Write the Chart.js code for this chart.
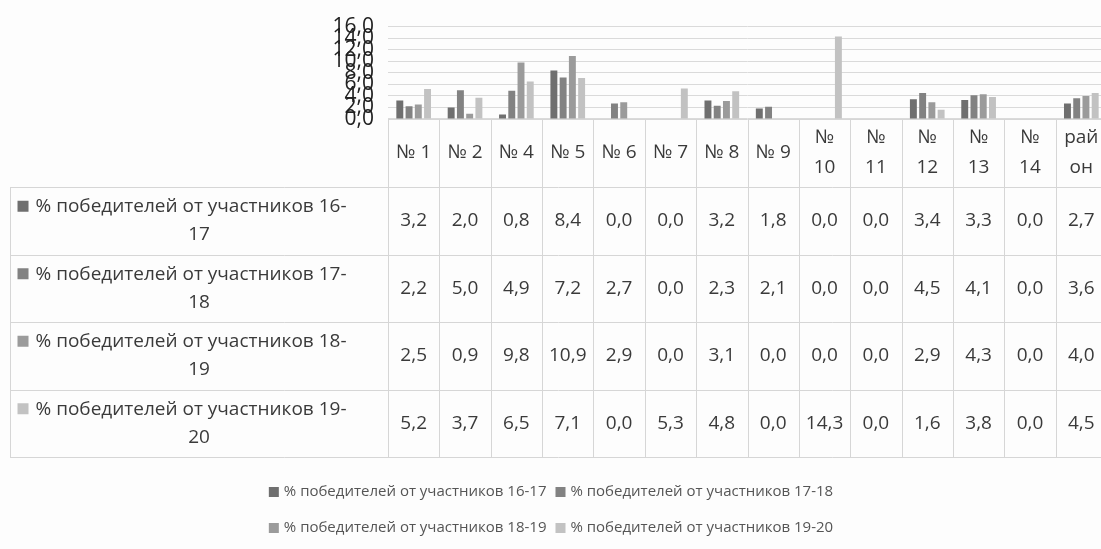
<!DOCTYPE html>
<html><head><meta charset="utf-8">
<script src="https://cdn.jsdelivr.net/npm/chart.js@4/dist/chart.umd.min.js"></script>
<style>
html,body{margin:0;padding:0;background:#fdfdfd;overflow:hidden;}
#wrap{position:relative;width:1107px;height:549px;}
</style>
</head><body><div id="wrap"><canvas id="c"></canvas></div>
<script>
// ---- data ----
const categories = ['№ 1','№ 2','№ 4','№ 5','№ 6','№ 7','№ 8','№ 9','№ 10','№ 11','№ 12','№ 13','№ 14','район'];
const seriesNames = [
  '% победителей от участников 16-17',
  '% победителей от участников 17-18',
  '% победителей от участников 18-19',
  '% победителей от участников 19-20'
];
const s1617 = [3.2, 2.0, 0.8, 8.4, 0.0, 0.0, 3.2, 1.8, 0.0, 0.0, 3.4, 3.3, 0.0, 2.7];
const s1718 = [2.2, 5.0, 4.9, 7.2, 2.7, 0.0, 2.3, 2.1, 0.0, 0.0, 4.5, 4.1, 0.0, 3.6];
const s1819 = [2.5, 0.9, 9.8, 10.9, 2.9, 0.0, 3.1, 0.0, 0.0, 0.0, 2.9, 4.3, 0.0, 4.0];
const s1920 = [5.2, 3.7, 6.5, 7.1, 0.0, 5.3, 4.8, 0.0, 14.3, 0.0, 1.6, 3.8, 0.0, 4.5];
const yMin = 0, yMax = 16, yStep = 2;

// ---- style ----
const FONT = '"Open Sans", "Noto Sans", sans-serif';
const colors = ['#6f6f6f', '#828282', '#9b9b9b', '#c2c2c2'];
const TEXT = '#3a3a3a';
const LINE = '#d6d6d6';
const fmt = v => v.toFixed(1).replace('.', ',');

function wrapText(ctx, text, maxW) {
  const tokens = text.match(/[^\s-]+-?|\s+/g) || [text];
  const lines = [];
  let cur = '';
  for (const t of tokens) {
    const test = cur + t;
    if (ctx.measureText(test.trim()).width <= maxW || cur === '') {
      cur = test;
    } else {
      lines.push(cur.trim());
      cur = t.trim();
    }
  }
  if (cur.trim()) lines.push(cur.trim());
  const out = [];
  for (const l of lines) {
    if (ctx.measureText(l).width <= maxW) { out.push(l); continue; }
    let part = '';
    for (const ch of l) {
      if (ctx.measureText(part + ch).width > maxW && part) { out.push(part); part = ch; }
      else part += ch;
    }
    if (part) out.push(part);
  }
  return out;
}

const tableGeom = { headerBottom: 187, rowH: 67.5, leftX: 10 };

const dataTablePlugin = {
  id: 'dataTable',
  afterDraw(chart) {
    const { ctx, scales: { x } } = chart;
    const ds = chart.data.datasets;
    const n = categories.length;
    const colW = (x.right - x.left) / n;
    const top = chart.chartArea.bottom;
    const hb = tableGeom.headerBottom;
    const rh = tableGeom.rowH;
    const bottom = hb + rh * ds.length;
    ctx.save();
    ctx.strokeStyle = LINE;
    ctx.lineWidth = 1;
    ctx.beginPath();
    ctx.moveTo(x.left, top + 0.5); ctx.lineTo(x.right, top + 0.5);
    for (let r = 0; r <= ds.length; r++) {
      const yy = Math.round(hb + rh * r) + 0.5;
      ctx.moveTo(tableGeom.leftX, yy); ctx.lineTo(x.right, yy);
    }
    ctx.moveTo(tableGeom.leftX + 0.5, hb); ctx.lineTo(tableGeom.leftX + 0.5, bottom);
    for (let i = 0; i <= n; i++) {
      const xx = Math.round(x.getPixelForValue(i) - colW / 2) + 0.5;
      ctx.moveTo(xx, top); ctx.lineTo(xx, bottom);
    }
    ctx.stroke();

    ctx.fillStyle = TEXT;
    ctx.textAlign = 'center';
    ctx.textBaseline = 'middle';
    ctx.font = '19px ' + FONT;
    const hMid = (top + hb) / 2;
    categories.forEach((c, i) => {
      const cx = x.getPixelForValue(i);
      const lines = wrapText(ctx, c, colW - 12);
      const lh = 30;
      lines.forEach((l, k) => {
        ctx.fillText(l, cx, hMid + (k - (lines.length - 1) / 2) * lh);
      });
    });
    ds.forEach((d, r) => {
      const rTop = hb + rh * r;
      const rMid = rTop + rh / 2;
      d.data.forEach((v, i) => {
        ctx.fillText(fmt(v), x.getPixelForValue(i), rMid);
      });
      const lines = wrapText(ctx, d.label, 315);
      const cellC = (tableGeom.leftX + x.left) / 2;
      const lh = 28;
      lines.forEach((l, k) => {
        const yy = rMid + (k - (lines.length - 1) / 2) * lh;
        if (k === 0) {
          const tw = ctx.measureText(l).width;
          const total = 11 + 7 + tw;
          const sx = cellC - 17 - total / 2;
          ctx.fillStyle = d.backgroundColor;
          ctx.fillRect(sx, yy - 6, 11, 11);
          ctx.fillStyle = TEXT;
          ctx.textAlign = 'left';
          ctx.fillText(l, sx + 18, yy);
          ctx.textAlign = 'center';
        } else {
          ctx.fillText(l, cellC, yy);
        }
      });
    });

    // legend (two rows of two)
    ctx.font = '15px ' + FONT;
    ctx.textAlign = 'left';
    const rowsY = [492, 528];
    const centerX = 551;
    for (let rr = 0; rr < 2; rr++) {
      const items = ds.slice(rr * 2, rr * 2 + 2);
      const widths = items.map(d => 10 + 5 + ctx.measureText(d.label).width);
      const gap = 9;
      const totalW = widths.reduce((a, b) => a + b, 0) + gap * (items.length - 1);
      let sx = centerX - totalW / 2;
      items.forEach((d, k) => {
        ctx.fillStyle = d.backgroundColor;
        ctx.fillRect(sx, rowsY[rr] - 5, 10, 10);
        ctx.fillStyle = '#555';
        ctx.fillText(d.label, sx + 15, rowsY[rr]);
        sx += widths[k] + gap;
      });
    }
    ctx.restore();
  }
};

const mk = (i, data) => ({
  label: seriesNames[i], data, backgroundColor: colors[i],
  barPercentage: 0.75, categoryPercentage: 0.72
});

new Chart(document.getElementById('c'), {
  type: 'bar',
  data: {
    labels: categories,
    datasets: [mk(0, s1617), mk(1, s1718), mk(2, s1819), mk(3, s1920)]
  },
  options: {
    responsive: true,
    maintainAspectRatio: false,
    animation: false,
    layout: { padding: { top: 24, bottom: 430, left: 0, right: 0 } },
    plugins: { legend: { display: false }, tooltip: { enabled: false } },
    scales: {
      x: { display: false },
      y: {
        min: yMin, max: yMax,
        afterFit(scale) { scale.width = 388; },
        ticks: {
          stepSize: yStep, autoSkip: false, padding: 14,
          color: '#222', font: { size: 21, family: FONT },
          callback: v => fmt(v)
        },
        grid: { color: '#dadada', drawTicks: false },
        border: { display: false }
      }
    }
  },
  plugins: [dataTablePlugin]
});
</script>
</body></html>
